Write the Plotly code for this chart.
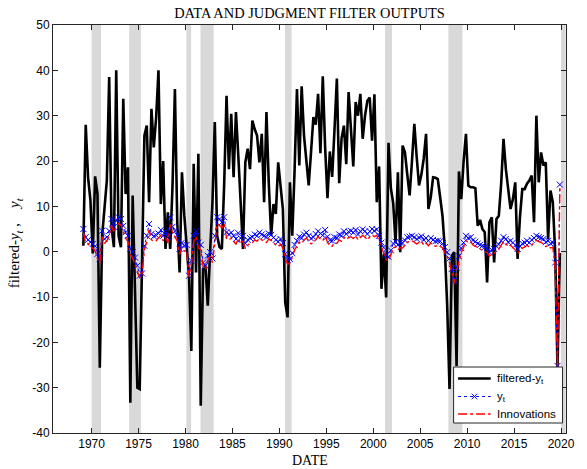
import pandas as pd
import plotly.graph_objects as go

# Quarterly sample 1969Q1-2019Q4, plotted at mid-quarter
quarters = pd.period_range("1969Q1", "2019Q4", freq="Q")
dates = list(quarters.year + (quarters.quarter - 0.5) / 4.0)

# Judgment-filter output (one row per year, Q1..Q4)
filtered_y = [
    1.3, 28.0, 16.4, 11.3,      # 1969
    -0.4, 16.6, 12.8, -25.6,    # 1970
    3.5, 9.0, 15.7, 38.5,       # 1971
    5.4, 1.0, 40.0, 3.5,        # 1972
    1.0, 33.7, 12.7, 18.6,      # 1973
    -33.3, 12.4, -8.0, -30.0,   # 1974
    -30.3, -0.5, 25.6, 27.8,    # 1975
    10.9, 31.5, 23.0, 29.6,     # 1976
    40.0, 10.5, 20.0, 0.6,      # 1977
    8.7, 0.6, 15.0, 35.9,       # 1978
    6.5, -4.6, 17.5, 8.0,       # 1979
    0.6, -5.3, -21.9, 19.4,     # 1980
    -4.6, 21.6, -34.0, -3.8,    # 1981
    -3.1, -11.9, 0.0, 10.9,     # 1982
    28.6, 3.5, 1.0, 0.6,        # 1983
    15.0, 34.4, 18.2, 30.4,     # 1984
    16.4, 30.8, 21.2, 12.0,     # 1985
    0.6, 19.7, 22.7, 18.2,      # 1986
    28.9, 27.0, 25.6, 19.7,     # 1987
    26.0, 10.9, 30.8, 15.0,     # 1988
    3.5, 10.5, 8.3, 19.7,       # 1989
    14.0, 9.4, -11.2, -14.5,    # 1990
    15.3, 3.5, 18.2, 35.9,      # 1991
    19.0, 36.5, 25.6, 20.0,     # 1992
    14.6, 22.0, 29.7, 28.0,     # 1993
    34.8, 21.7, 38.7, 23.0,     # 1994
    11.8, 22.1, 16.5, 27.0,     # 1995
    38.2, 15.1, 25.0, 27.8,     # 1996
    19.3, 35.2, 27.0, 18.8,     # 1997
    33.0, 30.0, 34.8, 24.9,     # 1998
    30.0, 33.3, 34.0, 24.5,     # 1999
    34.7, 10.9, 18.8, -8.2,     # 2000
    -0.5, -10.1, 24.0, 14.0,    # 2001
    10.7, 1.8, 17.5, -0.1,      # 2002
    23.4, 21.9, 17.0, 12.4,     # 2003
    20.0, 28.2, 21.0, 14.6,     # 2004
    17.0, 20.5, 26.0, 9.4,      # 2005
    12.0, 16.4, 16.3, 16.0,     # 2006
    12.0, 7.9, 0.6, -12.0,      # 2007
    -30.3, -0.9, -0.1, -25.2,   # 2008
    17.7, 11.6, 20.0, 26.0,     # 2009
    14.6, 14.2, 14.2, 14.0,     # 2010
    5.7, 7.0, 5.0, 4.3,         # 2011
    -6.8, 6.5, 7.6, -2.4,       # 2012
    7.2, 7.9, 15.0, 24.9,       # 2013
    18.2, 13.1, 9.4, 11.6,      # 2014
    15.3, -1.6, 7.6, 13.8,      # 2015
    13.8, 15.0, 15.7, 16.8,     # 2016
    6.5, 30.0, 15.3, 21.9,      # 2017
    19.0, 19.7, 2.8, 13.5,      # 2018
    10.9, 0.0, -25.6, -0.3,     # 2019
]

# Observed data y_t
y_obs = [
    5.0, 3.2, 2.6, 2.1,         # 1969
    1.7, 1.2, -0.5, -1.5,       # 1970
    4.6, 2.8, 3.2, 4.6,         # 1971
    7.2, 5.4, 6.8, 7.6,         # 1972
    7.2, 5.7, 4.3, 3.5,         # 1973
    0.6, -0.1, -1.3, -3.1,      # 1974
    -5.3, -4.8, 1.3, 3.5,       # 1975
    6.1, 3.9, 3.4, 3.6,         # 1976
    4.0, 4.8, 3.5, 4.4,         # 1977
    3.2, 7.6, 5.5, 4.5,         # 1978
    3.6, 0.6, 2.0, 1.3,         # 1979
    1.5, -5.3, -2.0, 3.5,       # 1980
    4.5, 2.0, 1.5, -2.4,        # 1981
    -3.1, -0.9, -0.1, -1.5,     # 1982
    3.5, 7.6, 7.2, 6.5,         # 1983
    7.6, 4.3, 3.8, 4.2,         # 1984
    3.5, 2.8, 4.1, 3.0,         # 1985
    3.5, 1.8, 2.6, 3.0,         # 1986
    3.2, 3.8, 3.5, 4.2,         # 1987
    3.8, 3.5, 3.2, 4.0,         # 1988
    3.7, 3.1, 2.6, 2.2,         # 1989
    2.8, 1.9, -0.5, -1.8,       # 1990
    -1.6, -0.3, 1.5, 2.4,       # 1991
    3.3, 3.0, 3.8, 4.2,         # 1992
    3.5, 2.9, 3.2, 3.9,         # 1993
    4.5, 4.0, 3.6, 4.8,         # 1994
    3.3, 2.5, 2.4, 3.2,         # 1995
    3.0, 3.8, 3.5, 4.5,         # 1996
    3.9, 4.4, 4.6, 4.2,         # 1997
    4.8, 3.8, 4.5, 4.9,         # 1998
    4.5, 3.9, 4.5, 5.0,         # 1999
    4.6, 4.9, 3.5, 2.0,         # 2000
    0.9, -0.8, -1.1, 0.3,       # 2001
    1.8, 2.2, 1.5, 2.0,         # 2002
    1.9, 2.5, 3.2, 3.3,         # 2003
    3.5, 3.2, 2.8, 3.1,         # 2004
    3.4, 2.6, 3.0, 2.4,         # 2005
    3.0, 2.6, 2.3, 2.4,         # 2006
    2.3, 1.8, 1.0, -0.1,        # 2007
    -1.5, -3.8, -6.4, -3.5,     # 2008
    -1.0, 0.8, 2.0, 3.5,        # 2009
    3.0, 3.2, 2.5, 2.2,         # 2010
    1.8, 1.5, 1.3, 1.0,         # 2011
    0.8, -0.1, 0.4, 0.6,        # 2012
    1.2, 1.6, 2.4, 3.2,         # 2013
    2.8, 2.1, 2.4, 2.0,         # 2014
    1.4, 0.6, 1.2, 1.8,         # 2015
    2.0, 2.4, 2.0, 2.6,         # 2016
    3.0, 3.5, 3.2, 3.0,         # 2017
    2.8, 2.1, 2.4, 1.8,         # 2018
    2.0, -2.4, -25.2, 14.8,     # 2019
]

# Innovations
innovations = [
    4.2, 2.0, 1.8, 1.0,         # 1969
    0.8, 0.2, -1.6, -2.5,       # 1970
    3.6, 1.8, 2.4, 3.5,         # 1971
    5.8, 4.2, 5.5, 6.2,         # 1972
    5.9, 4.4, 3.0, 2.2,         # 1973
    -0.6, -1.4, -2.8, -4.0,     # 1974
    -5.8, -5.0, 0.4, 2.2,       # 1975
    4.8, 2.6, 2.3, 2.4,         # 1976
    2.9, 3.6, 2.4, 3.2,         # 1977
    2.0, 6.0, 4.2, 3.3,         # 1978
    2.4, -0.6, 0.9, 0.1,        # 1979
    0.3, -5.6, -2.8, 2.2,       # 1980
    3.3, 0.8, 0.4, -3.2,        # 1981
    -4.0, -1.9, -1.0, -2.4,     # 1982
    2.2, 6.2, 5.8, 5.2,         # 1983
    6.2, 3.0, 2.6, 3.0,         # 1984
    2.3, 1.6, 2.9, 1.8,         # 1985
    2.3, 0.7, 1.4, 1.9,         # 1986
    2.0, 2.6, 2.3, 3.0,         # 1987
    2.6, 2.3, 2.0, 2.8,         # 1988
    2.5, 1.9, 1.5, 1.1,         # 1989
    1.6, 0.8, -1.5, -2.8,       # 1990
    -2.5, -1.3, 0.4, 1.3,       # 1991
    2.1, 1.8, 2.6, 3.0,         # 1992
    2.3, 1.7, 2.0, 2.7,         # 1993
    3.3, 2.8, 2.4, 3.5,         # 1994
    2.1, 1.3, 1.2, 2.0,         # 1995
    1.8, 2.6, 2.3, 3.2,         # 1996
    2.7, 3.1, 3.3, 2.9,         # 1997
    3.5, 2.6, 3.2, 3.6,         # 1998
    3.2, 2.6, 3.3, 3.7,         # 1999
    3.3, 3.6, 2.3, 0.9,         # 2000
    -0.2, -1.8, -2.0, -0.8,     # 2001
    0.7, 1.1, 0.4, 0.9,         # 2002
    0.8, 1.4, 2.1, 2.2,         # 2003
    2.4, 2.1, 1.7, 2.0,         # 2004
    2.3, 1.5, 1.9, 1.3,         # 2005
    1.9, 1.5, 1.2, 1.3,         # 2006
    1.2, 0.8, -0.1, -1.1,       # 2007
    -2.4, -4.6, -7.0, -4.4,     # 2008
    -2.0, -0.2, 1.0, 2.4,       # 2009
    2.0, 2.2, 1.5, 1.2,         # 2010
    0.8, 0.5, 0.3, 0.0,         # 2011
    -0.2, -1.0, -0.6, -0.4,     # 2012
    0.2, 0.6, 1.4, 2.2,         # 2013
    1.8, 1.1, 1.4, 1.0,         # 2014
    0.4, -0.4, 0.2, 0.8,        # 2015
    1.0, 1.4, 1.0, 1.6,         # 2016
    2.0, 2.5, 2.2, 2.0,         # 2017
    1.8, 1.1, 1.4, 0.8,         # 2018
    1.0, -3.4, -25.5, 14.6,     # 2019
]

# Recession periods (shaded)
recession_start = [1970.0, 1974.0, 1980.1, 1981.6, 1990.6, 2001.25, 2008.0, 2020.0]
recession_end = [1971.0, 1975.25, 1980.6, 1983.0, 1991.3, 2002.0, 2009.5, 2020.5]

x_ticks = list(range(1970, 2021, 5))
y_ticks = list(range(-40, 51, 10))

SERIF = "Liberation Serif, Times New Roman, serif"
SANS = "Liberation Sans, Arial, Helvetica, sans-serif"
AXIS_COLOR = "#262626"

fig = go.Figure()

fig.add_trace(go.Scatter(
    x=dates, y=filtered_y, mode="lines", name="filtered-y<sub>t</sub>",
    line=dict(color="black", width=2.6),
))
fig.add_trace(go.Scatter(
    x=dates, y=y_obs, mode="lines+markers", name="y<sub>t</sub>",
    line=dict(color="blue", width=1, dash="dot"),
    marker=dict(symbol="x-thin", size=6, line=dict(color="blue", width=1)),
))
fig.add_trace(go.Scatter(
    x=dates, y=innovations, mode="lines", name="Innovations",
    line=dict(color="red", width=1.4, dash="dashdot"),
))

for s, e in zip(recession_start, recession_end):
    fig.add_shape(type="rect", xref="x", yref="paper", x0=s, x1=e, y0=0, y1=1,
                  fillcolor="#d9d9d9", line=dict(width=0), layer="below")

# plot-area geometry in pixels (used for the hand-built legend)
W, H = 587, 469
ML, MR, MT, MB = 53, 16, 25, 36
PW, PH = W - ML - MR, H - MT - MB


def px(xp):
    return (xp - ML) / PW


def py(yp):
    return (H - MB - yp) / PH


# legend box
box_l, box_r, box_t, box_b = 457.5, 567.5, 367.0, 423.0
fig.add_shape(type="rect", xref="paper", yref="paper",
              x0=px(box_l), x1=px(box_r), y0=py(box_b), y1=py(box_t),
              fillcolor="white", line=dict(color=AXIS_COLOR, width=1), layer="above")

entry_y = [378.5, 396.5, 414.0]
entry_text = ["filtered-y<sub>t</sub>", "y<sub>t</sub>", "Innovations"]
entry_line = [dict(color="black", width=2.6),
              dict(color="blue", width=1, dash="dot"),
              dict(color="red", width=1.4, dash="dashdot")]
for yy, txt, ln in zip(entry_y, entry_text, entry_line):
    fig.add_shape(type="line", xref="paper", yref="paper",
                  x0=px(462), x1=px(495), y0=py(yy), y1=py(yy), line=ln, layer="above")
    fig.add_annotation(xref="paper", yref="paper", x=px(499), y=py(yy),
                       text=txt, showarrow=False, xanchor="left", yanchor="middle",
                       font=dict(family=SANS, size=11.5, color="black"))
# the cross marker on the y_t sample
cx, cy, r = 478.5, entry_y[1], 2.8
for dx in (-1, 1):
    fig.add_shape(type="line", xref="paper", yref="paper",
                  x0=px(cx - r), x1=px(cx + r), y0=py(cy - dx * r), y1=py(cy + dx * r),
                  line=dict(color="blue", width=1), layer="above")

fig.add_annotation(xref="paper", yref="paper", x=0.5, y=py(460), text="DATE",
                   showarrow=False, xanchor="center", yanchor="middle",
                   font=dict(family=SERIF, size=14, color="black"))
fig.add_annotation(xref="paper", yref="paper", x=px(15), y=py(243),
                   text="filtered-<i>y</i><sub><i>t</i></sub> ,    <i>y</i><sub><i>t</i></sub>",
                   textangle=-90, showarrow=False, xanchor="center", yanchor="middle",
                   font=dict(family=SERIF, size=15, color="black"))

fig.update_layout(
    width=W, height=H,
    margin=dict(l=ML, r=MR, t=MT, b=MB),
    paper_bgcolor="white", plot_bgcolor="white",
    showlegend=False,
    title=dict(text="DATA AND JUDGMENT FILTER OUTPUTS", x=0.5, xanchor="center",
               xref="paper", y=1 - 13 / H, yanchor="middle",
               font=dict(family=SERIF, size=14.4, color="black")),
    xaxis=dict(range=[1965.89, 2020.53], tickvals=x_ticks, ticktext=[str(v) for v in x_ticks],
               ticks="inside", ticklen=5, tickcolor=AXIS_COLOR, showgrid=False, zeroline=False,
               showline=True, linecolor=AXIS_COLOR, linewidth=1, mirror="ticks",
               tickfont=dict(family=SANS, size=12, color="black")),
    yaxis=dict(range=[-40, 50], tickvals=y_ticks, ticktext=[str(v) for v in y_ticks],
               ticks="inside", ticklen=5, tickcolor=AXIS_COLOR, showgrid=False, zeroline=False,
               showline=True, linecolor=AXIS_COLOR, linewidth=1, mirror="ticks",
               tickfont=dict(family=SANS, size=12, color="black")),
)

fig.write_html("out.html")
